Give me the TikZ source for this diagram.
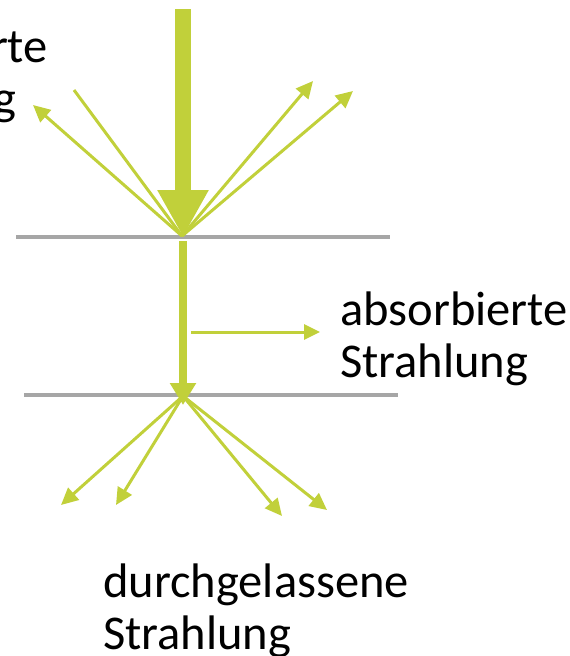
\documentclass[tikz,border=0pt]{standalone}
\usepackage{fontspec}
\setmainfont{Carlito}
\usetikzlibrary{arrows.meta}
\definecolor{ray}{RGB}{193,208,58}
\definecolor{surf}{RGB}{166,166,166}
\tikzset{
  thinray/.style={draw=ray, line width=3pt, -{Triangle[length=17pt,width=16pt]}},
  plainray/.style={draw=ray, line width=3pt},
  surface/.style={draw=surf, line width=3.5pt},
  lbl/.style={anchor=base west, inner sep=0pt, font=\fontsize{48.5pt}{52pt}\selectfont}
}
\begin{document}
\begin{tikzpicture}[x=1pt,y=-1pt]
\useasboundingbox (0,0) rectangle (570,656);
\clip (0,0) rectangle (570,656);
% surfaces
\coordinate (s1a) at (16,237);  \coordinate (s1b) at (390,237);
\coordinate (s2a) at (24,395);  \coordinate (s2b) at (398,395);
\draw[surface] (s1a) -- (s1b);
\draw[surface] (s2a) -- (s2b);
% incident beam
\coordinate (src) at (183,9);
\coordinate (hit) at (183,237);
\draw[draw=ray, line width=16pt, -{Triangle[length=47pt,width=48pt]}] (src) -- (hit);
% reflected rays
\coordinate (r0) at (182,236);
\coordinate (rl1) at (33,105);
\coordinate (rl2) at (74,90);
\coordinate (rr1) at (313,81);
\coordinate (rr2) at (353,91);
\draw[thinray] (r0) -- (rl1);
\draw[plainray] (r0) -- (rl2);
\draw[thinray] (r0) -- (rr1);
\draw[thinray] (r0) -- (rr2);
% beam inside
\coordinate (in0) at (183,241);
\coordinate (in1) at (183,405);
\draw[draw=ray, line width=8pt, -{Triangle[length=22pt,width=25pt]}] (in0) -- (in1);
% absorbed
\coordinate (ab0) at (191,332);
\coordinate (ab1) at (320,332);
\draw[draw=ray, line width=3pt, -{Triangle[length=16pt,width=15pt]}] (ab0) -- (ab1);
% transmitted rays
\coordinate (t0) at (183,396);
\coordinate (t1) at (61,505);
\coordinate (t2) at (116,505);
\coordinate (t3) at (282,516);
\coordinate (t4) at (327,510);
\draw[thinray] (t0) -- (t1);
\draw[thinray] (t0) -- (t2);
\draw[thinray] (t0) -- (t3);
\draw[thinray] (t0) -- (t4);
% labels
\node[lbl] (refA) at (-172,62) {reflektierte};
\node[lbl] (refB) at (-172,114) {Strahlung};
\node[lbl] (absA) at (340,325) {absorbierte};
\node[lbl] (absB) at (340,377) {Strahlung};
\node[lbl] (traA) at (103,597) {durchgelassene};
\node[lbl] (traB) at (103,649) {Strahlung};
\end{tikzpicture}
\end{document}
